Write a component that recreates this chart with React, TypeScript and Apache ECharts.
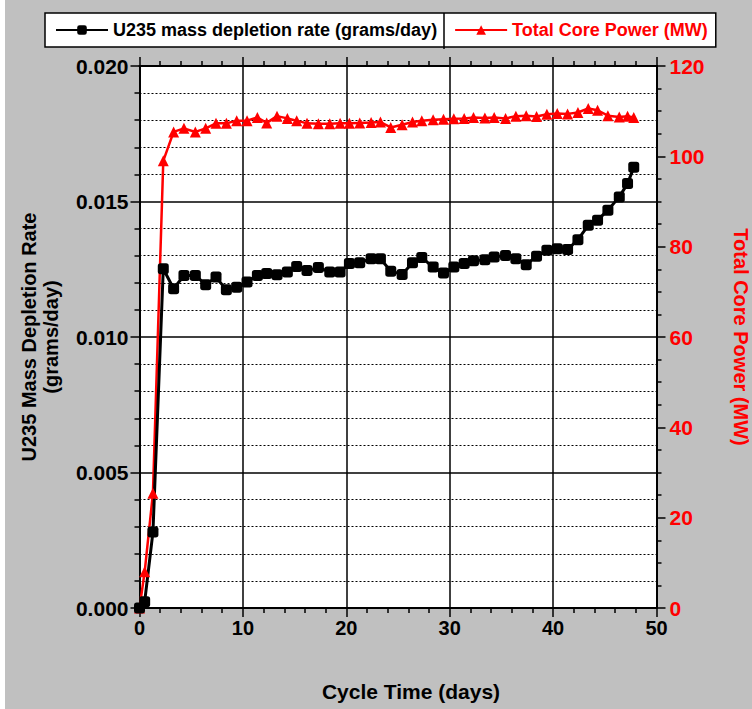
import React, { useEffect, useRef } from "react";
import * as echarts from "echarts";

const days = [0, 0.5, 1.3, 2.3, 3.3, 4.3, 5.4, 6.4, 7.4, 8.4, 9.4, 10.4, 11.4, 12.3, 13.3, 14.3, 15.2, 16.2, 17.3, 18.4, 19.4, 20.3, 21.3, 22.4, 23.3, 24.3, 25.4, 26.4, 27.3, 28.4, 29.4, 30.4, 31.4, 32.3, 33.4, 34.3, 35.4, 36.4, 37.4, 38.4, 39.4, 40.4, 41.4, 42.4, 43.4, 44.3, 45.3, 46.4, 47.2, 47.8];

const u235Rate = [0, 0.00023, 0.0028, 0.01252, 0.01178, 0.01227, 0.01227, 0.01193, 0.01221, 0.01174, 0.01184, 0.01203, 0.01227, 0.01234, 0.0123, 0.0124, 0.0126, 0.01245, 0.01256, 0.0124, 0.0124, 0.01271, 0.01274, 0.01289, 0.01289, 0.01243, 0.01231, 0.01274, 0.01293, 0.01258, 0.01236, 0.01258, 0.01271, 0.01281, 0.01285, 0.01295, 0.01301, 0.01289, 0.01267, 0.01298, 0.0132, 0.01326, 0.01323, 0.01359, 0.01412, 0.01431, 0.01468, 0.01517, 0.01566, 0.01626];

const corePower = [0, 8, 25.4, 99, 105.4, 106.2, 105.4, 106.2, 107.3, 107.3, 107.9, 107.9, 108.6, 107.4, 108.9, 108.4, 107.9, 107.3, 107.2, 107.2, 107.3, 107.3, 107.4, 107.5, 107.6, 106.4, 107.0, 107.6, 107.9, 108.1, 108.2, 108.3, 108.4, 108.6, 108.5, 108.6, 108.4, 108.9, 109.0, 108.8, 109.3, 109.5, 109.4, 109.7, 110.6, 110.2, 109.0, 108.7, 108.9, 108.6];

const U235_NAME = "U235 mass depletion rate (grams/day)";
const POWER_NAME = "Total Core Power (MW)";

export default function App() {
  const ref = useRef<HTMLDivElement>(null);
  useEffect(() => {
    const chart = echarts.init(ref.current!, null, { renderer: "svg" });
    const font = "'Liberation Sans', Arial, sans-serif";
    const black = "#000";
    const red = "#ff0000";
    const axisLine = { show: true, onZero: false, lineStyle: { color: black, width: 2 } };
    const axisTick = { show: true, inside: false, length: 9, lineStyle: { color: black, width: 1.5 } };
    const labelBase = { fontSize: 21, fontWeight: "bold", fontFamily: font };
    chart.setOption({
      animation: false,
      backgroundColor: "transparent",
      grid: {
        left: 139.5,
        right: 95.5,
        top: 66,
        bottom: 101,
        show: true,
        backgroundColor: "#fff",
        borderWidth: 0,
        containLabel: false,
        outerBoundsMode: "none",
      },
      legend: {
        left: 45,
        top: 13,
        orient: "horizontal",
        backgroundColor: "#fff",
        borderColor: black,
        borderWidth: 1.5,
        borderRadius: 0,
        padding: [8, 8, 8, 10],
        itemGap: 17,
        itemWidth: 52,
        itemHeight: 12,
        textStyle: { fontSize: 18, fontWeight: "bold", fontFamily: font },
        data: [
          { name: U235_NAME, textStyle: { color: black } },
          { name: POWER_NAME, textStyle: { color: red } },
        ],
      },
      xAxis: [
        {
          type: "value",
          min: 0,
          max: 50,
          interval: 10,
          position: "bottom",
          axisLine,
          axisTick,
          minorTick: { show: true, splitNumber: 5, length: 5, lineStyle: { color: black, width: 1.5 } },
          axisLabel: { ...labelBase, fontSize: 20, color: black, margin: 10 },
          splitLine: { show: true, lineStyle: { color: black, width: 1.5 } },
          name: "Cycle Time (days)",
          nameLocation: "middle",
          nameGap: 73,
          nameTextStyle: { color: black, fontSize: 21, fontWeight: "bold", fontFamily: font, padding: [0, 0, 0, 26] },
        },
        {
          type: "value",
          min: 0,
          max: 50,
          interval: 10,
          position: "top",
          axisLine,
          axisTick,
          minorTick: { show: true, splitNumber: 5, length: 5, lineStyle: { color: black, width: 1.5 } },
          axisLabel: { show: false },
          splitLine: { show: false },
        },
      ],
      yAxis: [
        {
          type: "value",
          min: 0,
          max: 0.02,
          interval: 0.005,
          position: "left",
          axisLine,
          axisTick,
          minorTick: { show: true, splitNumber: 5, length: 5, lineStyle: { color: black, width: 1.5 } },
          axisLabel: { ...labelBase, color: black, margin: 11, formatter: (v: number) => v.toFixed(3) },
          splitLine: { show: true, lineStyle: { color: black, width: 1.5 } },
          minorSplitLine: { show: true, lineStyle: { color: black, width: 1, type: [2, 2] } },
          name: "U235 Mass Depletion Rate\n(grams/day)",
          nameLocation: "middle",
          nameGap: 78,
          nameRotate: 90,
          nameTextStyle: { color: black, fontSize: 20, fontWeight: "bold", fontFamily: font, lineHeight: 22 },
        },
        {
          type: "value",
          min: 0,
          max: 120,
          interval: 20,
          position: "right",
          axisLine,
          axisTick,
          minorTick: { show: true, splitNumber: 4, length: 5, lineStyle: { color: black, width: 1.5 } },
          axisLabel: { ...labelBase, color: red, margin: 13 },
          splitLine: { show: false },
          name: POWER_NAME,
          nameLocation: "middle",
          nameGap: 74,
          nameRotate: -90,
          nameTextStyle: { color: red, fontSize: 20, fontWeight: "bold", fontFamily: font, lineHeight: 20 },
        },
      ],
      graphic: [
        { type: "line", shape: { x1: 444, y1: 13, x2: 444, y2: 49 }, style: { stroke: black, lineWidth: 1.5 }, z: 100 },
      ],
      series: [
        {
          name: POWER_NAME,
          type: "line",
          xAxisIndex: 0,
          yAxisIndex: 1,
          data: days.map((d, i) => [d, corePower[i]]),
          symbol: "triangle",
          symbolSize: 11,
          showAllSymbol: true,
          lineStyle: { color: red, width: 2.5 },
          itemStyle: { color: red },
        },
        {
          name: U235_NAME,
          type: "line",
          xAxisIndex: 0,
          yAxisIndex: 0,
          data: days.map((d, i) => [d, u235Rate[i]]),
          symbol: "roundRect",
          symbolSize: 11,
          showAllSymbol: true,
          lineStyle: { color: black, width: 3 },
          itemStyle: { color: black },
        },
      ],
    });
    return () => chart.dispose();
  }, []);
  return (
    <div style={{ position: "fixed", left: 0, top: 0, width: 752, height: 709, background: "#fff" }}>
      <div style={{ position: "absolute", left: 5, top: 0, width: 747, height: 709, background: "#c0c0c0" }} />
      <div ref={ref} style={{ position: "absolute", left: 0, top: 0, width: 752, height: 709 }} />
    </div>
  );
}
